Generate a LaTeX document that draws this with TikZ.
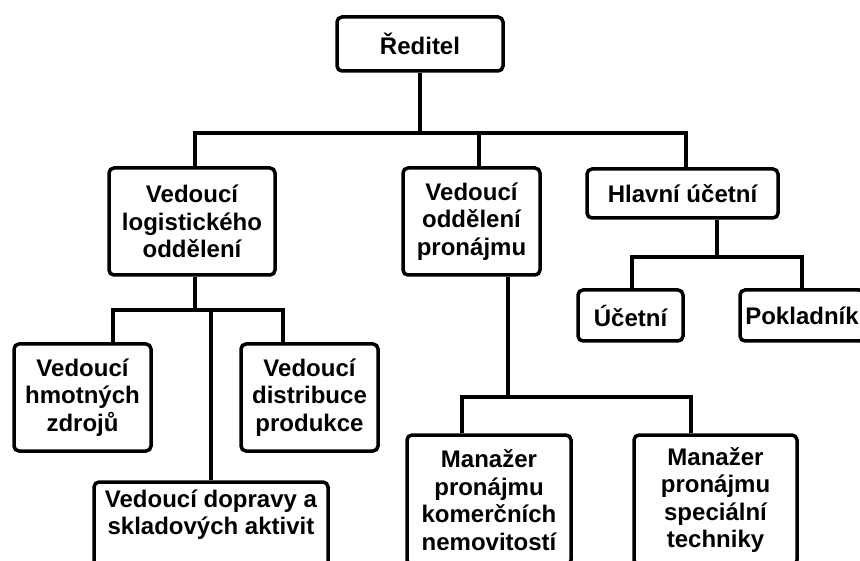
\documentclass[tikz,border=0pt]{standalone}
\usepackage{fontspec}
\setmainfont{Liberation Sans}

\begin{document}
\begin{tikzpicture}[x=1pt,y=-1pt,
  box/.style={draw,line width=3.5pt,rounded corners=5pt,align=center,inner sep=0pt,
    font=\bfseries\fontsize{24}{27.5}\selectfont},
  link/.style={line width=3.5pt}]
  \useasboundingbox (0,0) rectangle (860,561);
  \clip (0,0) rectangle (860,561);

  \node[box,minimum width=166pt,minimum height=54pt] (red) at (420,44) {Ředitel};
  \node[box,minimum width=166pt,minimum height=107pt] (log) at (192,221.5) {Vedoucí\\logistického\\oddělení};
  \node[box,minimum width=137pt,minimum height=107pt] (pron) at (471.5,221.5) {Vedoucí\\oddělení\\pronájmu};
  \node[box,minimum width=191pt,minimum height=49pt] (hlav) at (682.5,193.5) {Hlavní účetní};
  \node[box,minimum width=105pt,minimum height=51pt] (uce) at (630.5,315.5) {Účetní};
  \node[box,minimum width=124pt,minimum height=51pt] (pok) at (802,315.5) {Pokladník};
  \node[box,minimum width=137pt,minimum height=107pt] (hmot) at (82.5,397.5) {Vedoucí\\hmotných\\zdrojů};
  \node[box,minimum width=137pt,minimum height=107pt] (dist) at (309.5,397.5) {Vedoucí\\distribuce\\produkce};
  \node[box,minimum width=234pt,minimum height=96pt] (dopr) at (211,530) {Vedoucí dopravy a\\skladových aktivit\\ \strut};
  \node[box,minimum width=164pt,minimum height=130pt] (kom) at (489,500) {Manažer\\pronájmu\\komerčních\\nemovitostí};
  \node[box,minimum width=163pt,minimum height=130pt] (spec) at (715.5,500) {Manažer\\pronájmu\\speciální\\techniky};

  % main level
  \coordinate (b1l) at (195,133);
  \coordinate (b1m) at (479,133);
  \coordinate (b1r) at (686,133);
  \draw[link] (red) -- (red |- b1l);
  \draw[link] (log.north -| b1l) -- (b1l) -- (b1r) -- (hlav.north -| b1r);
  \draw[link] (b1m) -- (pron.north -| b1m);

  % accounting
  \coordinate (b2) at (717,257);
  \coordinate (b2l) at (632,257);
  \coordinate (b2r) at (802,257);
  \draw[link] (hlav.south -| b2) -- (b2);
  \draw[link] (uce.north -| b2l) -- (b2l) -- (b2r) -- (pok.north -| b2r);

  % logistics
  \coordinate (b3) at (195,310);
  \coordinate (b3l) at (113,310);
  \coordinate (b3m) at (211,310);
  \coordinate (b3r) at (283,310);
  \draw[link] (log.south -| b3) -- (b3);
  \draw[link] (hmot.north -| b3l) -- (b3l) -- (b3r) -- (dist.north -| b3r);
  \draw[link] (b3m) -- (dopr.north -| b3m);

  % rental
  \coordinate (b4) at (508,397);
  \coordinate (b4l) at (462,397);
  \coordinate (b4r) at (691,397);
  \draw[link] (pron.south -| b4) -- (b4);
  \draw[link] (kom.north -| b4l) -- (b4l) -- (b4r) -- (spec.north -| b4r);
\end{tikzpicture}
\end{document}
